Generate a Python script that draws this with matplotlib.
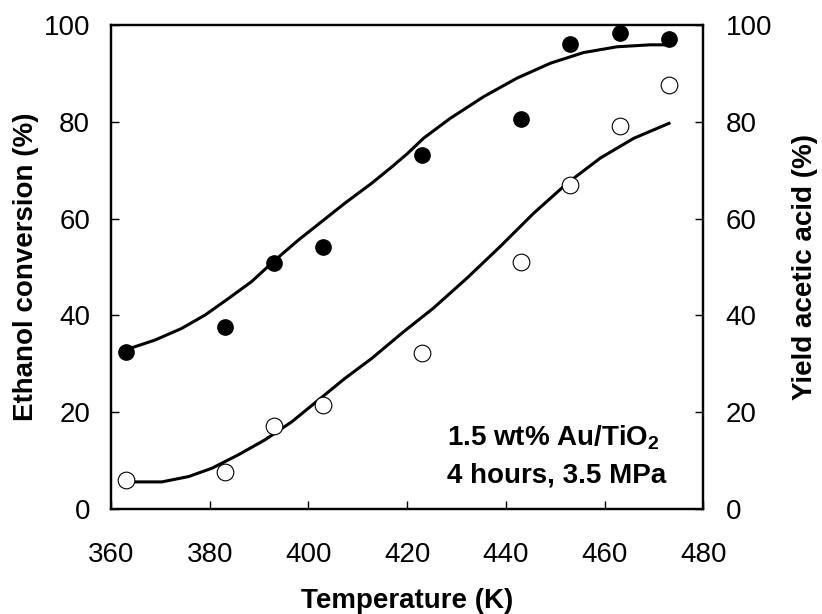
import matplotlib
matplotlib.use("Agg")
import matplotlib.pyplot as plt

plt.rcParams['font.family'] = ['Liberation Sans', 'DejaVu Sans']
plt.rcParams['mathtext.fontset'] = 'custom'
plt.rcParams['mathtext.rm'] = 'Liberation Sans'
plt.rcParams['mathtext.bf'] = 'Liberation Sans:bold'

# Measured data
temperature = [363, 383, 393, 403, 423, 443, 453, 463, 473]
ethanol_conversion = [32.4, 37.7, 50.9, 54.1, 73.1, 80.6, 96.1, 98.4, 97.2]
acetic_acid_yield = [6.0, 7.7, 17.1, 21.5, 32.2, 51.0, 66.9, 79.1, 87.6]

# Fitted trend lines
fit_conv_T = [363.0, 368.9, 374.3, 379.1, 383.8, 388.5, 393.2, 398.0, 402.7, 407.4,
              412.8, 416.9, 420.0, 423.3, 428.7, 435.5, 442.2, 449.0, 455.7, 462.5,
              469.2, 472.9]
fit_conv_val = [32.9, 34.9, 37.3, 40.1, 43.5, 47.0, 51.4, 55.6, 59.4, 63.2,
                67.3, 70.7, 73.4, 76.6, 80.7, 85.2, 89.0, 92.1, 94.3, 95.5,
                95.9, 95.9]
fit_yield_T = [363.0, 370.3, 375.7, 380.4, 385.8, 391.2, 396.6, 402.0, 407.4, 412.8,
               419.0, 425.3, 432.1, 438.8, 445.6, 452.4, 459.1, 465.9, 473.3]
fit_yield_val = [5.6, 5.6, 6.7, 8.4, 11.2, 14.3, 18.0, 22.5, 27.0, 31.1,
                 36.4, 41.5, 47.7, 54.2, 61.1, 67.3, 72.5, 76.6, 79.8]

x_ticks = [360, 380, 400, 420, 440, 460, 480]
y_ticks = [0, 20, 40, 60, 80, 100]

fig = plt.figure(figsize=(8.22, 6.14), dpi=100)
ax = fig.add_axes([0.135, 0.171, 0.7208, 0.7883])
ax2 = ax.twinx()

ax.plot(fit_conv_T, fit_conv_val, color='black', lw=2.2, solid_capstyle='butt')
ax.plot(fit_yield_T, fit_yield_val, color='black', lw=2.2, solid_capstyle='butt')
ax.plot(temperature, ethanol_conversion, 'o', color='black', ms=11, zorder=5)
ax2.plot(temperature, acetic_acid_yield, 'o', mfc='white', mec='black', mew=0.8, ms=12, zorder=5)

for a in (ax, ax2):
    a.set_ylim(0, 100)
    a.set_yticks(y_ticks)
    a.set_xlim(360, 480)
    for s in a.spines.values():
        s.set_linewidth(1.6)
ax.set_xticks(x_ticks)

ax.tick_params(axis='x', direction='in', length=6, width=1, labelsize=20, pad=24)
ax.tick_params(axis='y', direction='in', length=6, width=1, labelsize=20, pad=15)
ax2.tick_params(axis='y', direction='in', length=6, width=1, labelsize=20, pad=16)

ax.set_xlabel('Temperature (K)', fontsize=20, fontweight='bold', labelpad=14)
ax.set_ylabel('Ethanol conversion (%)', fontsize=20, fontweight='bold', labelpad=3)
ax2.set_ylabel('Yield acetic acid (%)', fontsize=20, fontweight='bold', labelpad=14)

ax.text(428.0, 13.2, r'1.5 wt% Au/TiO$_\mathbf{2}$', fontsize=20, fontweight='bold',
        ha='left', va='baseline')
ax.text(428.0, 5.4, '4 hours, 3.5 MPa', fontsize=20, fontweight='bold',
        ha='left', va='baseline')

fig.savefig('out.png', dpi=100)
